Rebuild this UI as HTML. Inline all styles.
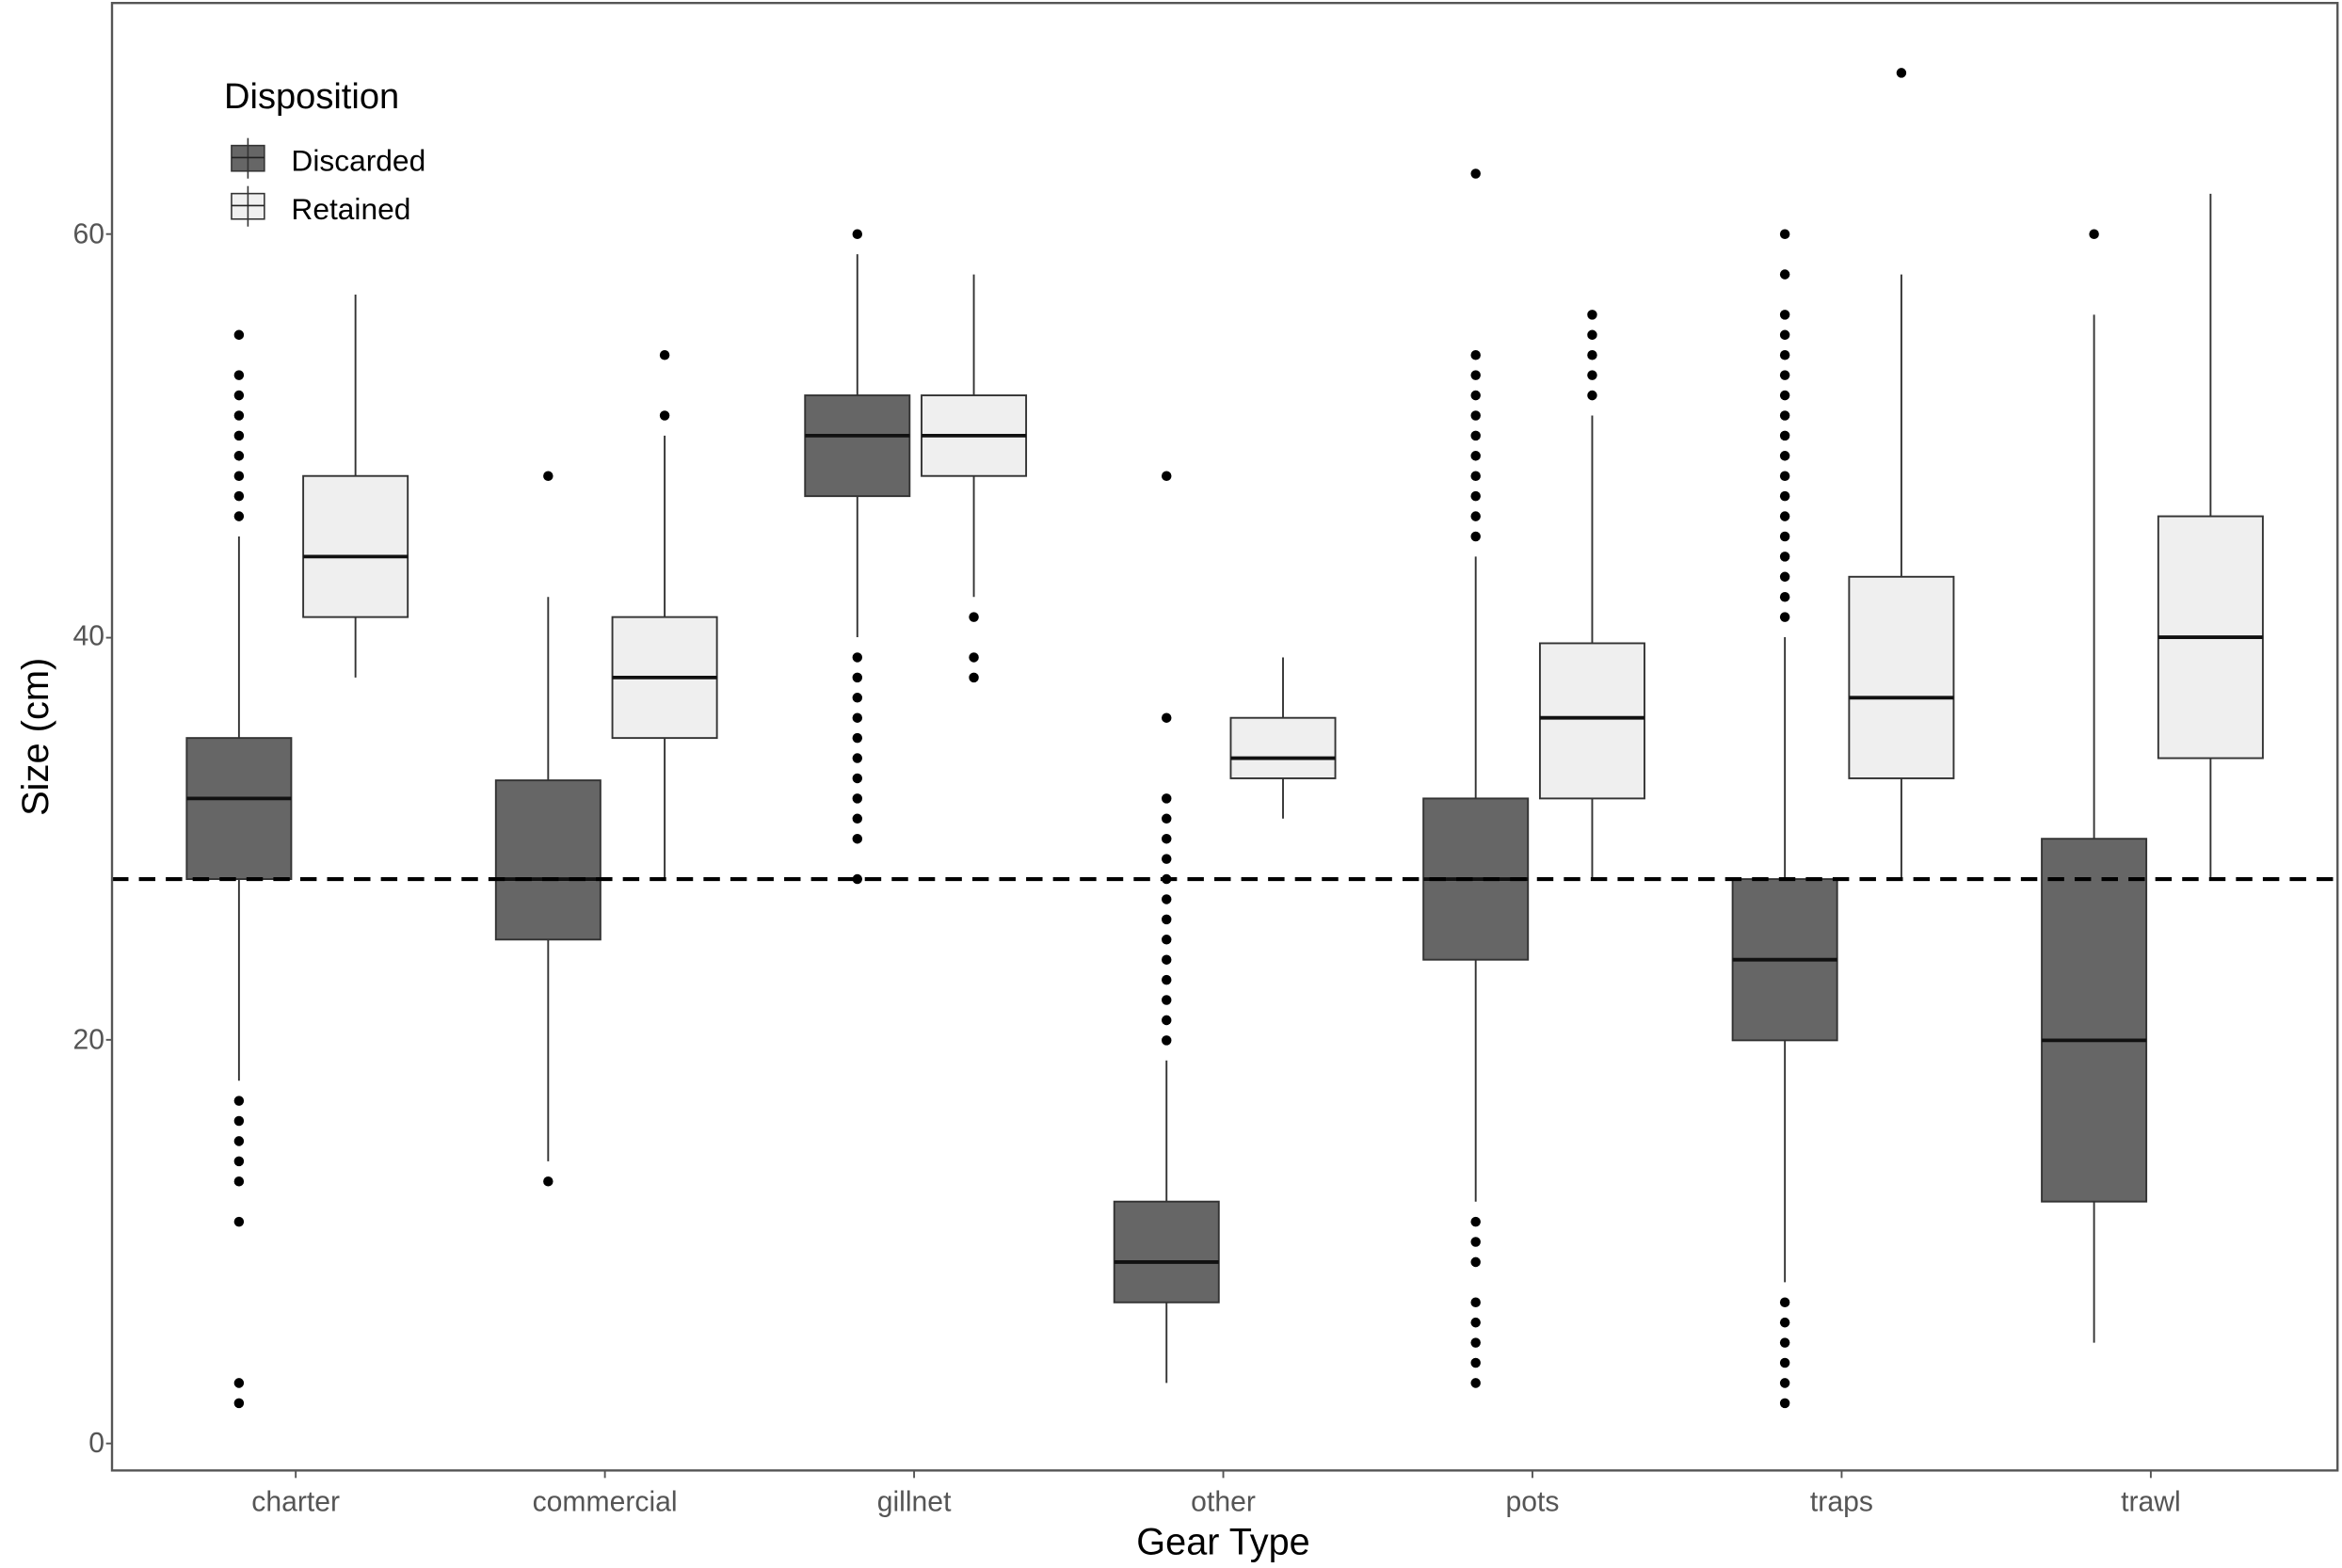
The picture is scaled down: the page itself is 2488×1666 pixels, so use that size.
<!DOCTYPE html>
<html><head><meta charset="utf-8"><style>html,body{margin:0;padding:0;background:#fff}svg{display:block}</style></head>
<body>
<svg id="s" width="2488" height="1666" viewBox="0 0 1568 1045" preserveAspectRatio="none" xmlns="http://www.w3.org/2000/svg" font-family="Liberation Sans, Arial, sans-serif">
<rect x="0" y="0" width="1568" height="1045" fill="#fff"/>
<g id="g"></g>
<rect x="75" y="2" width="1490" height="978" fill="none" stroke="#555" stroke-width="1.5"/>
<text x="70" y="968" font-size="19" fill="#555" text-anchor="end">0</text>
<text x="70" y="699" font-size="19" fill="#555" text-anchor="end">20</text>
<text x="70" y="430" font-size="19" fill="#555" text-anchor="end">40</text>
<text x="70" y="162" font-size="19" fill="#555" text-anchor="end">60</text>
<g stroke="#555" stroke-width="1.2">
<line x1="71" y1="962" x2="75" y2="962"/><line x1="71" y1="693" x2="75" y2="693"/><line x1="71" y1="425" x2="75" y2="425"/><line x1="71" y1="156" x2="75" y2="156"/>
</g>
<text transform="translate(32,491) rotate(-90)" font-size="25" fill="#000" text-anchor="middle">Size (cm)</text>
<text x="819" y="1036" font-size="25" fill="#000" text-anchor="middle">Gear Type</text>
<text x="150" y="72" font-size="24" fill="#000">Disposition</text>
<rect x="155" y="97" width="22" height="17" fill="#666" stroke="#333"/><line x1="166" y1="92" x2="166" y2="119" stroke="#333"/><line x1="155" y1="105" x2="177" y2="105" stroke="#222"/>
<rect x="155" y="129" width="22" height="17" fill="#f0f0f0" stroke="#333"/><line x1="166" y1="124" x2="166" y2="151" stroke="#333"/><line x1="155" y1="137" x2="177" y2="137" stroke="#222"/>
<text x="195" y="114" font-size="20" fill="#000">Discarded</text>
<text x="195" y="146" font-size="20" fill="#000">Retained</text>
</svg>
<script>
const Y=v=>962-13.433*v;
const cats=["charter","commercial","gillnet","other","pots","traps","trawl"];
const xs=[198,405,612,819,1026,1233,1440];
const rng=(a,b)=>{let r=[];for(let i=a;i<=b;i++)r.push(i);return r;};
// [wlo,q1,med,q3,whi,outliers]
const D=[
[18,28,32,35,45,[55,53,52,51,50,49,48,47,46,17,16,15,14,13,11,3,2]],
[14,25,28,32.9,42,[48,13]],
[40,47,50,52,59,[60].concat(rng(30,39),[28])],
[3,7,9,12,19,rng(20,32).concat([36,48])],
[12,24,28,32,44,rng(45,54).concat([63,11,10,9,7,6,5,4,3])],
[8,20,24,28,40,rng(41,56).concat([58,60,7,6,5,4,3,2])],
[5,12,20,30,56,[60]]];
const R=[
[38,41,44,48,57,[]],
[28,35,38,41,50,[51,54]],
[42,48,50,52,58,[41,39,38]],
[31,33,34,36,39,[]],
[28,32,36,39.7,51,[52,53,54,55,56]],
[28,33,37,43,58,[68]],
[28,34,40,46,62,[]]];
let h="";
function box(cx,d,fill){
 const [wl,q1,m,q3,wh,o]=d;
 h+=`<line x1="${cx}" y1="${Y(wh)}" x2="${cx}" y2="${Y(wl)}" stroke="#333" stroke-width="1.2"/>`;
 h+=`<rect x="${cx-35}" y="${Y(q3)}" width="70" height="${Y(q1)-Y(q3)}" fill="${fill}" stroke="#333" stroke-width="1.2"/>`;
 h+=`<line x1="${cx-35}" y1="${Y(m)}" x2="${cx+35}" y2="${Y(m)}" stroke="#111" stroke-width="2.4"/>`;
 o.forEach(v=>h+=`<circle cx="${cx}" cy="${Y(v)}" r="3.3" fill="#000"/>`);
}
xs.forEach((x,i)=>{box(x-38,D[i],"#666");box(x+40,R[i],"#efefef");
 h+=`<line x1="${x}" y1="980" x2="${x}" y2="985" stroke="#555" stroke-width="1.2"/>`;
 h+=`<text x="${x}" y="1007" font-size="19" fill="#555" text-anchor="middle">${cats[i]}</text>`;});
h+=`<line x1="75" y1="${Y(28)}" x2="1565" y2="${Y(28)}" stroke="#000" stroke-width="2.6" stroke-dasharray="11,7"/>`;
document.getElementById("g").innerHTML=h;
</script>
</body></html>
